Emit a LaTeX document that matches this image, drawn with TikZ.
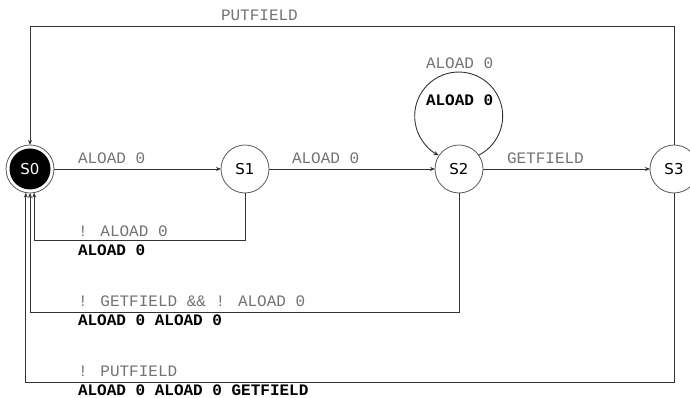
\documentclass[tikz,border=0pt]{standalone}
\usepackage{fontspec}
\newfontfamily\monofnt{Liberation Mono}
\newfontfamily\statefnt{DejaVu Sans}
\usetikzlibrary{arrows.meta}
\begin{document}
\begin{tikzpicture}[x=1pt,y=1pt,
  state/.style={circle,draw=black!65,line width=0.8pt,minimum size=48pt,inner sep=0pt,outer sep=0pt,font=\statefnt\fontsize{15}{15}\selectfont},
  initstate/.style={state,text=white,path picture={\fill[black] (path picture bounding box.center) circle (20.5pt);}},
  arr/.style={draw=black!80,line width=0.9pt,-{Stealth[length=5pt,width=4pt]}},
  cond/.style={anchor=base west,inner sep=0pt,outer sep=0pt,text=black!55,font=\monofnt\fontsize{16}{16}\selectfont},
  outp/.style={anchor=base west,inner sep=0pt,outer sep=0pt,text=black,font=\monofnt\bfseries\fontsize{16}{16}\selectfont}]
\fill[white] (0,0) rectangle (690,398);
\useasboundingbox (0,0) rectangle (690,398);
\clip (0,0) rectangle (690,398);

% states
\node[initstate] (S0) at (30,229) {S0};
\node[state] (S1) at (245,229) {S1};
\node[state] (S2) at (459,229) {S2};
\node[state] (S3) at (674,229) {S3};

% forward transitions
\draw[arr] (S0) -- (S1);
\draw[arr] (S1) -- (S2);
\draw[arr] (S2) -- (S3);

% self loop on S2
\draw[arr] (S2.35) arc[start angle=-63, end angle=243, radius=44];

% PUTFIELD back to S0 over the top
\draw[arr] (S3.north) -- ++(0,119) -| (S0.north);

% returns below
\draw[arr] (S1.south) -- ++(0,-47.7) -| (S0.-80);
\draw[arr] (S2.south) -- ++(0,-119) -| (S0.-90);
\draw[arr] (S3.south) -- ++(0,-189) -| (S0.-100);

% labels
\node[cond] (lput) at (221,377.4) {PUTFIELD};
\node[cond] (l01) at (78,234.5) {ALOAD 0};
\node[cond] (l12) at (292,234.5) {ALOAD 0};
\node[cond] (l23) at (507,234.5) {GETFIELD};
\node[cond] (lloop) at (426,329.4) {ALOAD 0};
\node[outp] (lloopo) at (426,292.7) {ALOAD 0};

\node[cond] (r1c) at (78,161.5) {! ALOAD 0};
\node[outp] (r1o) at (78,142.5) {ALOAD 0};
\node[cond] (r2c) at (78,91.5) {! GETFIELD \&\& ! ALOAD 0};
\node[outp] (r2o) at (78,72.5) {ALOAD 0 ALOAD 0};
\node[cond] (r3c) at (78,21.5) {! PUTFIELD};
\node[outp] (r3o) at (78,2.6) {ALOAD 0 ALOAD 0 GETFIELD};
\end{tikzpicture}
\end{document}
